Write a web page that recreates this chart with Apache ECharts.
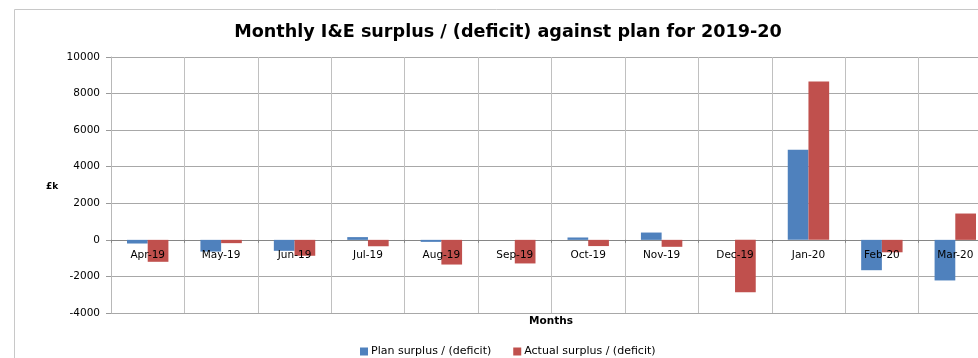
<!DOCTYPE html>
<html>
<head>
<meta charset="utf-8">
<script src="https://cdn.jsdelivr.net/npm/echarts@6/dist/echarts.min.js"></script>
<style>
html,body{margin:0;padding:0;background:#fff;}
#chart{width:978px;height:358px;}
</style>
</head>
<body>
<div id="chart"></div>
<script>
// Months of the 2019-20 financial year
const months = ['Apr-19','May-19','Jun-19','Jul-19','Aug-19','Sep-19','Oct-19','Nov-19','Dec-19','Jan-20','Feb-20','Mar-20'];
// Plan surplus / (deficit), £k
const planValues = [-200, -640, -600, 150, -110, 0, 130, 400, 0, 4930, -1660, -2220];
// Actual surplus / (deficit), £k
const actualValues = [-1200, -180, -870, -350, -1350, -1290, -340, -380, -2860, 8660, -680, 1440];
const seriesNames = ['Plan surplus / (deficit)', 'Actual surplus / (deficit)'];

const font = '"DejaVu Sans", sans-serif';
const chart = echarts.init(document.getElementById('chart'), null, {renderer: 'canvas'});
chart.setOption({
  animation: false,
  backgroundColor: '#fff',
  title: {
    text: 'Monthly I&E surplus / (deficit) against plan for 2019-20',
    left: 503, top: 18, textAlign: 'center',
    textStyle: {fontFamily: font, fontSize: 17.6, fontWeight: 'bold', color: '#000'}
  },
  graphic: [{
    type: 'rect', shape: {x: 14.5, y: 9.5, width: 1000, height: 400},
    style: {fill: 'none', stroke: '#c8c8c8', lineWidth: 1}, silent: true, z: -1
  }, {
    type: 'text', left: 46, top: 182,
    style: {text: '£k', font: 'bold 9px ' + font, fill: '#000'}
  }, {
    type: 'text', left: 529, top: 316,
    style: {text: 'Months', font: 'bold 10.5px ' + font, fill: '#000'}
  }],
  legend: {
    data: seriesNames, top: 341, left: 355, itemWidth: 8, itemHeight: 8, itemGap: 22,
    icon: 'rect',
    textStyle: {fontFamily: font, fontSize: 11, color: '#000', padding: [0, 0, 0, -2]}
  },
  grid: {left: 111, top: 57, width: 881, height: 256, containLabel: false, outerBoundsMode: 'none'},
  xAxis: [{
    // grid lines and zero line, behind the bars
    type: 'category', data: months,
    axisLine: {onZero: true, lineStyle: {color: '#868686', width: 1}},
    axisTick: {show: true, length: 3, lineStyle: {color: '#868686'}},
    axisLabel: {show: false},
    splitLine: {show: true, lineStyle: {color: '#c0c0c0', width: 1}}
  }, {
    // month labels, drawn over the bars next to the zero line
    type: 'category', data: months, position: 'bottom', z: 20,
    axisLine: {show: false, onZero: true},
    axisTick: {show: false},
    axisLabel: {fontFamily: font, fontSize: 10.5, color: '#000', margin: -63},
    splitLine: {show: false}
  }],
  yAxis: {
    type: 'value', min: -4000, max: 10000, interval: 2000,
    axisLine: {show: true, lineStyle: {color: '#b8b8b8'}},
    axisTick: {show: true, inside: false, length: 5, lineStyle: {color: '#9a9a9a'}},
    axisLabel: {fontFamily: font, fontSize: 10.5, color: '#000', margin: 11, formatter: v => String(v)},
    splitLine: {show: true, lineStyle: {color: '#a8a8a8', width: 1}}
  },
  series: [{
    name: seriesNames[0], type: 'bar', data: planValues,
    barGap: '0%', barCategoryGap: '43.6%',
    itemStyle: {color: '#4f81bd'}
  }, {
    name: seriesNames[1], type: 'bar', data: actualValues,
    itemStyle: {color: '#c0504d'}
  }]
});
</script>
</body>
</html>
